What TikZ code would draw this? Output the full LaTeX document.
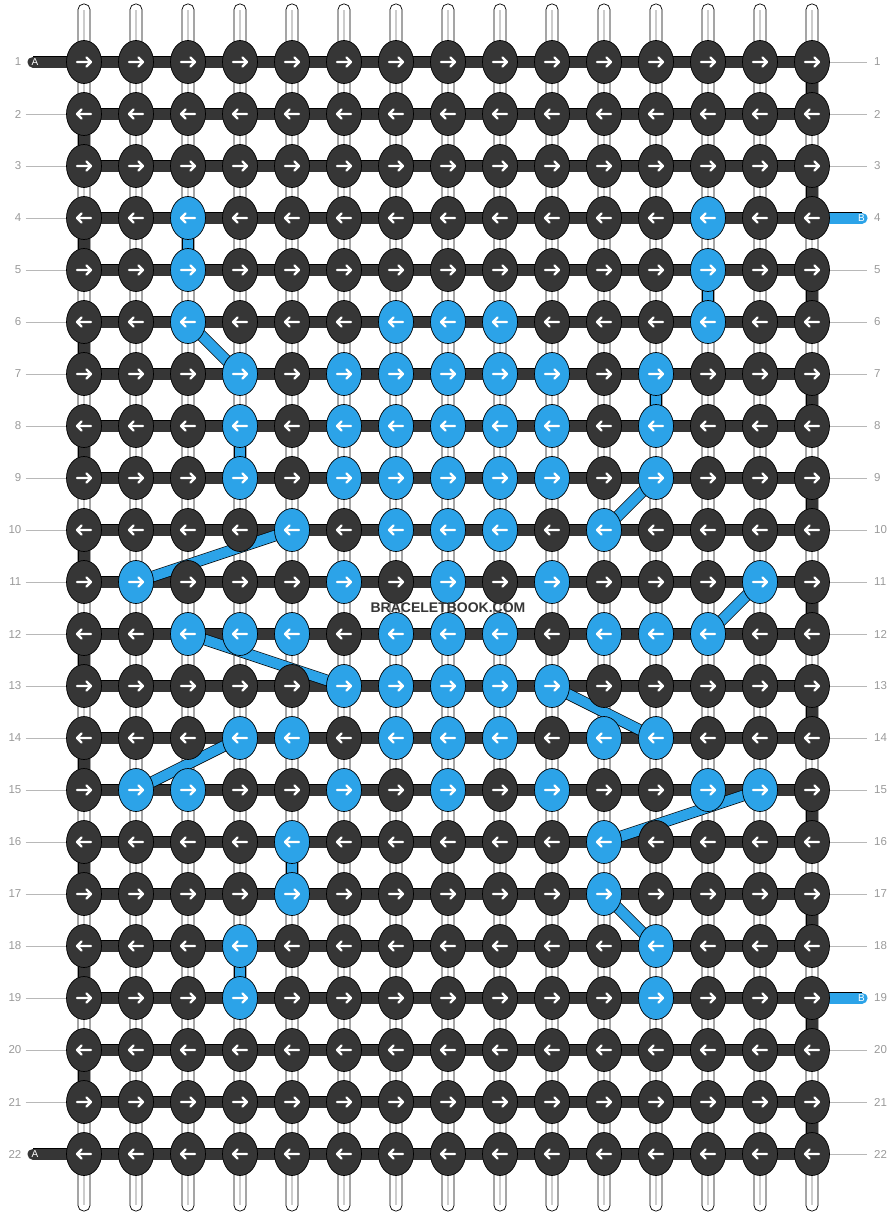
\documentclass[tikz,border=0pt]{standalone}
\usepackage{fontspec}
\setmainfont{Liberation Sans}
\usetikzlibrary{shapes.geometric}
\definecolor{kdark}{HTML}{363636}
\definecolor{kblue}{HTML}{2CA3E8}
\definecolor{lblgray}{HTML}{9A9A9A}
\pgfdeclarelayer{strandlayer}
\pgfdeclarelayer{threadlayer}
\pgfsetlayers{strandlayer,threadlayer,main}
\tikzset{
  knot/.style={ellipse, draw=black, line width=0.7pt, minimum width=35pt, minimum height=43pt, inner sep=0pt},
  kdir/.style={draw=white, line width=2.2pt, line cap=round, line join=round},
  dthread/.style={draw=kdark, line width=11pt, preaction={draw=black, line width=12.4pt}},
  bthread/.style={draw=kblue, line width=10pt, preaction={draw=black, line width=11.4pt}},
  rowlbl/.style={font=\fontsize{11.5}{11.5}\selectfont, text=lblgray, inner sep=0pt},
  tick/.style={draw=lblgray!70, line width=0.8pt},
  stublbl/.style={font=\fontsize{10}{10}\selectfont, text=white, inner sep=0pt},
  strandbar/.style={draw=black, fill=white, line width=0.7pt, rounded corners=5.5pt},
  strandmid/.style={draw=black!20, line width=1.3pt},
}
\begin{document}
\begin{tikzpicture}[x=1pt,y=-1pt]
\useasboundingbox (0,0) rectangle (896,1216);
% which knots are blue
\foreach \r/\c in {4/3,4/13,5/3,5/13,6/3,6/7,6/8,6/9,6/13,
  7/4,7/6,7/7,7/8,7/9,7/10,7/12, 8/4,8/6,8/7,8/8,8/9,8/10,8/12,
  9/4,9/6,9/7,9/8,9/9,9/10,9/12, 10/5,10/7,10/8,10/9,10/11,
  11/2,11/6,11/8,11/10,11/14, 12/3,12/4,12/5,12/7,12/8,12/9,12/11,12/12,12/13,
  13/6,13/7,13/8,13/9,13/10, 14/4,14/5,14/7,14/8,14/9,14/11,14/12,
  15/2,15/3,15/6,15/8,15/10,15/13,15/14, 16/5,16/11,17/5,17/11,18/4,18/12,19/4,19/12}
  {\expandafter\gdef\csname isblue-\r-\c\endcsname{}}
% vertical strands
\begin{pgfonlayer}{strandlayer}
\foreach \c in {1,...,15} {
  \pgfmathsetmacro\xx{84+52*(\c-1)}
  \draw[strandbar] (\xx-6,4) rectangle (\xx+6,1211);
  \draw[strandmid] (\xx,10) -- (\xx,1205);
}
\end{pgfonlayer}
% knots
\foreach \r in {1,...,22} {
  \pgfmathtruncatemacro\s{1-2*mod(\r+1,2)}
  \foreach \c in {1,...,15} {
    \ifcsname isblue-\r-\c\endcsname \def\kc{kblue}\else\def\kc{kdark}\fi
    \node[knot, fill=\kc] (k-\r-\c) at ({84+52*(\c-1)}, {62+52*(\r-1)}) {};
    \draw[kdir] (k-\r-\c.center) ++({-7*\s},0) -- ++({14*\s},0) ++({-4.5*\s},-4.5) -- ++({4.5*\s},4.5) -- ++({-4.5*\s},4.5);
  }
}
% stub ends
\coordinate (A1) at (33,62);
\coordinate (A22) at (33,1154);
\coordinate (B4) at (862,218);
\coordinate (B19) at (862,998);
% threads
\begin{pgfonlayer}{threadlayer}
\foreach \r in {1,...,22} \draw[dthread] (k-\r-1.center) -- (k-\r-15.center);
\foreach \r [evaluate=\r as \rn using int(\r+1)] in {1,3,...,21} \draw[dthread] (k-\r-15.center) -- (k-\rn-15.center);
\foreach \r [evaluate=\r as \rn using int(\r+1)] in {2,4,...,20} \draw[dthread] (k-\r-1.center) -- (k-\rn-1.center);
\draw[dthread, line cap=round] (A1) -- (k-1-1.center);
\draw[dthread, line cap=round] (A22) -- (k-22-1.center);
\draw[dthread, draw=kblue, line cap=round] (k-4-15.center) -- (B4);
\draw[dthread, draw=kblue, line cap=round] (k-19-15.center) -- (B19);
\foreach \ra/\ca/\rb/\cb in {4/3/5/3, 5/13/6/13, 6/3/7/4, 8/4/9/4, 7/12/8/12, 9/12/10/11,
  10/5/11/2, 11/14/12/13, 12/3/13/6, 13/10/14/12, 14/4/15/2, 15/14/16/11, 16/5/17/5,
  17/11/18/12, 18/4/19/4}
  \draw[bthread] (k-\ra-\ca.center) -- (k-\rb-\cb.center);
\end{pgfonlayer}
% stub labels
\node[stublbl] (tA1) at (35,62.5) {A};
\node[stublbl] (tA22) at (35,1154.5) {A};
\node[stublbl] (tB4) at (861.5,218.5) {B};
\node[stublbl] (tB19) at (861.5,998.5) {B};
% row labels and ticks
\foreach \r in {1,...,22} {
  \node[rowlbl, anchor=east] (L-\r) at (21.5,{62+52*(\r-1)}) {\r};
  \node[rowlbl, anchor=west] (R-\r) at (874,{62+52*(\r-1)}) {\r};
}
\foreach \r in {2,...,21} \draw[tick] ([xshift=4pt]L-\r.east) -- (k-\r-1.west);
\foreach \r in {1,2,3,5,6,7,8,9,10,11,12,13,14,15,16,17,18,20,21,22} \draw[tick] (k-\r-15.east) -- ([xshift=-7pt]R-\r.west);
% watermark
\node[font=\bfseries\fontsize{14}{14}\selectfont, text=kdark, inner sep=1pt] (wm) at (448,607.5) {BRACELETBOOK.COM};
\end{tikzpicture}
\end{document}
